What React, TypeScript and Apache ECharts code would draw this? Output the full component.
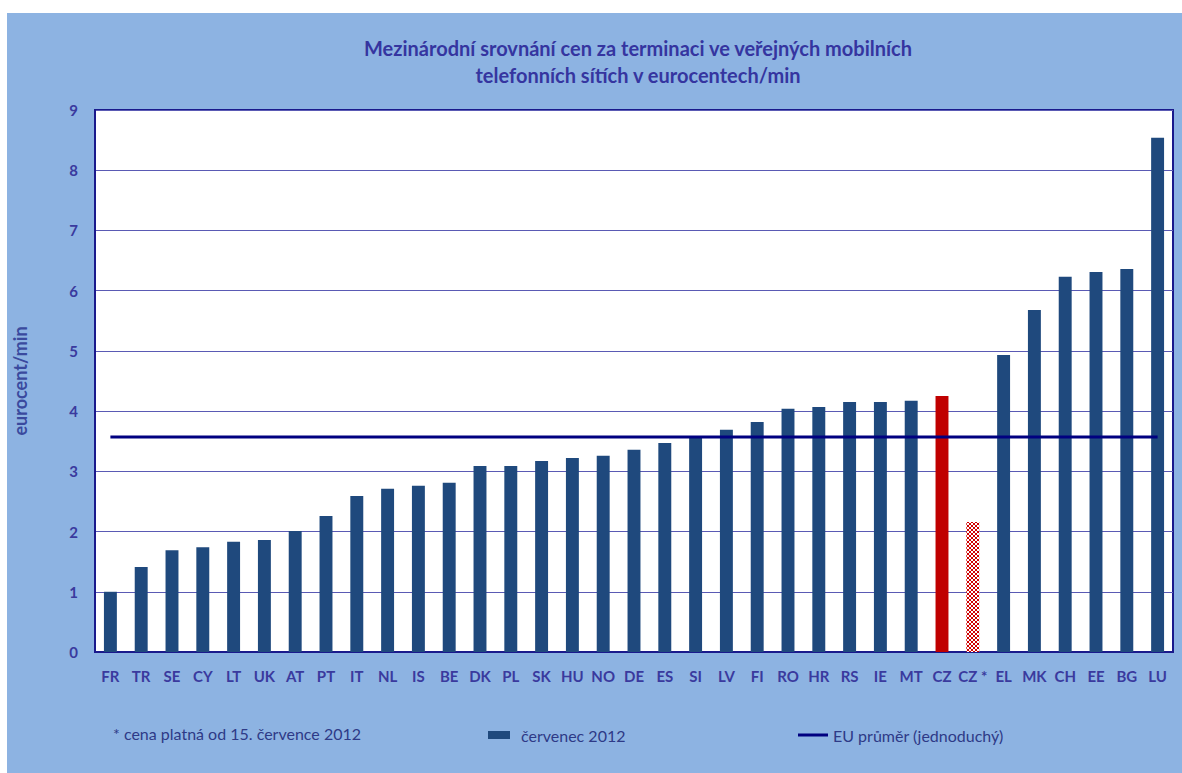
import React, { useEffect, useRef } from "react";
import * as echarts from "echarts";

const categories = ["FR","TR","SE","CY","LT","UK","AT","PT","IT","NL","IS","BE","DK","PL","SK","HU","NO","DE","ES","SI","LV","FI","RO","HR","RS","IE","MT","CZ","CZ *","EL","MK","CH","EE","BG","LU"];
const values = [1.0,1.41,1.69,1.74,1.83,1.86,2.01,2.26,2.59,2.71,2.76,2.81,3.09,3.09,3.17,3.22,3.26,3.36,3.47,3.57,3.69,3.82,4.04,4.07,4.15,4.15,4.17,4.25,2.16,4.93,5.68,6.23,6.31,6.36,8.54];
const euAverage = 3.57;
const yTicks = [0,1,2,3,4,5,6,7,8,9];

const title = "Mezinárodní srovnání cen za terminaci ve veřejných mobilních\ntelefonních sítích v eurocentech/min";
const barName = "červenec 2012";
const lineName = "EU průměr (jednoduchý)";
const footnote = "* cena platná od 15. července 2012";
const yName = "eurocent/min";

function makeChecker() {
  const c = document.createElement("canvas");
  c.width = 4; c.height = 4;
  const ctx = c.getContext("2d")!;
  ctx.fillStyle = "#ffffff"; ctx.fillRect(0, 0, 4, 4);
  ctx.fillStyle = "#D00000";
  ctx.fillRect(0, 0, 2, 2);
  ctx.fillRect(2, 2, 2, 2);
  return c;
}

export default function App() {
  const ref = useRef<HTMLDivElement>(null);
  useEffect(() => {
    const chart = echarts.init(ref.current!, null, { renderer: "svg" });
    const checker = makeChecker();
    const font = "Lato, 'Liberation Sans', sans-serif";
    const labelColor = "#3A3A9E";
    const barData = values.map((v, i) => {
      const c = categories[i];
      if (c === "CZ") return { value: v, itemStyle: { color: "#C00000" } };
      if (c === "CZ *") return { value: v, itemStyle: { color: { image: checker, repeat: "repeat", imageWidth: 4, imageHeight: 4 } as any } };
      return v;
    });
    chart.setOption({
      animation: false,
      backgroundColor: "#8DB3E2",
      title: {
        text: title,
        left: 626,
        top: 16,
        textAlign: "center",
        textStyle: { fontFamily: font, fontSize: 20, fontWeight: "bold", color: "#3535A0", lineHeight: 27 },
      },
      grid: {
        left: 88, top: 97, right: 9, bottom: 121,
        show: true, backgroundColor: "#ffffff", borderColor: "#1A1A8C", borderWidth: 2,
        containLabel: false,
        outerBoundsMode: "none",
      } as any,
      legend: [
        {
          data: [{ name: barName, icon: "rect" }],
          left: 476, top: 709, itemWidth: 22, itemHeight: 8,
          textStyle: { fontFamily: font, fontSize: 16, color: "#2E3A87", padding: [0, 0, 0, 6] },
        },
        {
          data: [{ name: lineName, icon: "rect" }],
          left: 786, top: 709, itemWidth: 30, itemHeight: 3,
          textStyle: { fontFamily: font, fontSize: 16, color: "#2E3A87" },
        },
      ],
      graphic: [
        {
          type: "text", left: 106, top: 712,
          style: { text: footnote, fontFamily: font, fontSize: 16, fill: "#2E3A87" },
        },
      ],
      xAxis: {
        type: "category",
        data: categories,
        axisTick: { show: false },
        axisLine: { show: true, lineStyle: { color: "#1A1A8C", width: 2 } },
        axisLabel: { interval: 0, margin: 16, fontFamily: font, fontSize: 15, fontWeight: "bold", color: labelColor },
      },
      yAxis: {
        type: "value",
        min: yTicks[0], max: yTicks[yTicks.length - 1], interval: 1,
        name: yName, nameLocation: "middle", nameGap: 66, nameRotate: 90,
        nameTextStyle: { fontFamily: font, fontSize: 18, fontWeight: "bold", color: "#3A4A9E" },
        axisLine: { show: true, lineStyle: { color: "#1A1A8C", width: 2 } },
        axisTick: { show: false },
        axisLabel: { margin: 17, fontFamily: font, fontSize: 15, fontWeight: "bold", color: labelColor },
        splitLine: { lineStyle: { color: "#5A5AB4", width: 1.2 } },
      },
      series: [
        {
          name: barName, type: "bar", data: barData, barWidth: "42%",
          itemStyle: { color: "#1F497D" },
        },
        {
          name: lineName, type: "line", data: categories.map(() => euAverage),
          symbol: "none", lineStyle: { color: "#000080", width: 3 }, itemStyle: { color: "#000080" },
          z: 5,
        },
      ],
    });
    return () => chart.dispose();
  }, []);
  return (
    <div
      ref={ref}
      style={{ position: "absolute", left: 7, top: 13, width: 1175, height: 760 }}
    />
  );
}
